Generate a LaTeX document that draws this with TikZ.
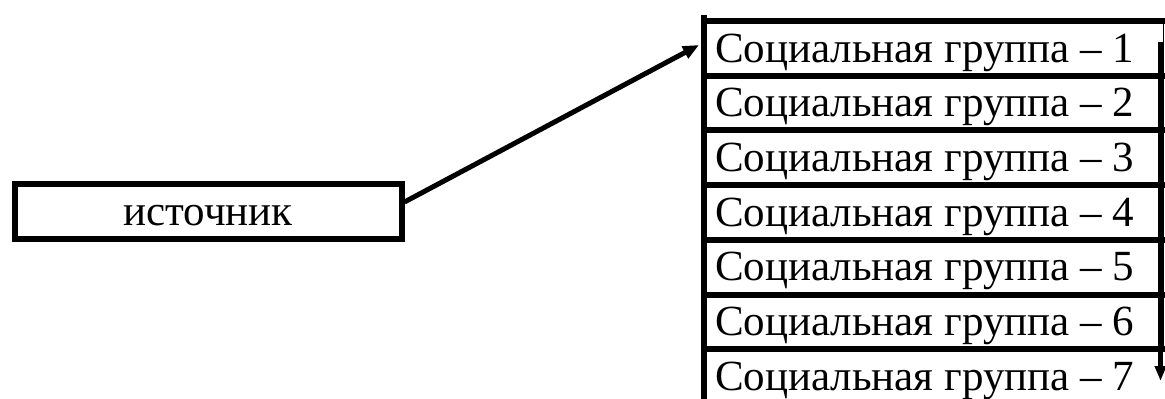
\documentclass[tikz,border=0pt]{standalone}
\usepackage{fontspec}
\setmainfont{Liberation Serif}
\usetikzlibrary{arrows.meta,calc}
\begin{document}
\begin{tikzpicture}[x=1pt,y=-1pt,
  thick line/.style={line width=6pt},
  grouptext/.style={anchor=base west,inner sep=0pt,font=\fontsize{43}{50}\selectfont},
  srcbox/.style={draw,line width=6pt,minimum width=387pt,minimum height=55pt,inner sep=0pt,
    text height=27pt,text depth=0pt,font=\fontsize{43}{50}\selectfont},
  conn/.style={line width=5pt,-{Triangle[length=16pt,width=13pt]}},
  downarrow/.style={line width=4.5pt,-{Triangle[length=15pt,width=11pt]}}]
\useasboundingbox (0,0) rectangle (1165,399);
% source box
\node[srcbox] (src) at (208,211.5) {источник};
% stack of groups
\foreach \i in {1,...,7}{
  \pgfmathsetmacro{\sep}{21+54.7*(\i-1)}
  \draw[thick line] (702,\sep) -- (1165,\sep);
  \node[grouptext] (g\i) at (715,\sep+41) {Социальная группа – \i};
}
% left vertical line
\draw[line width=6.5pt] (704,15) -- (704,399);
% thin right border
\draw[line width=1.5pt] (1163.5,21) -- (1163.5,349.2);
% right downward arrow
\coordinate (dtop) at (1160.5,42);
\coordinate (dbot) at (1160.5,381);
\draw[downarrow] (dtop) -- (dbot);
% connector
\coordinate (r1w) at (699,45);
\draw[conn] ([yshift=9.5pt]src.east) -- (r1w);
\end{tikzpicture}
\end{document}
